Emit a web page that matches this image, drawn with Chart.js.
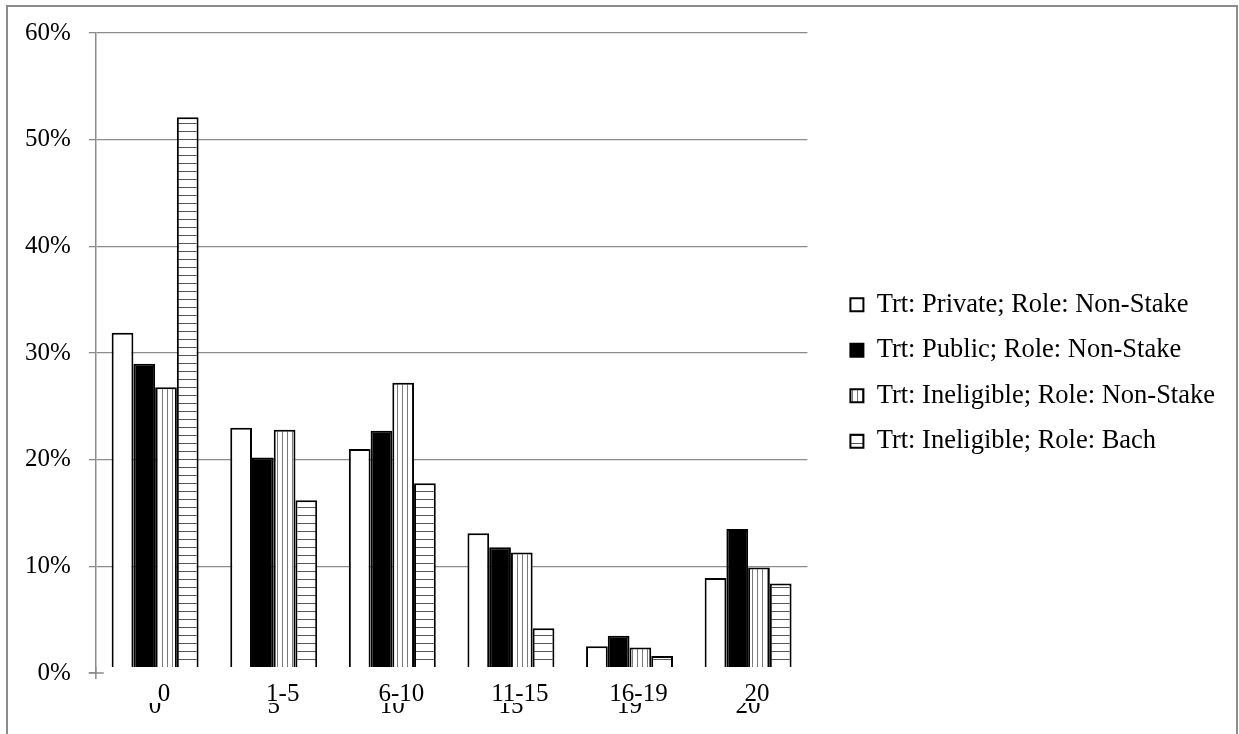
<!DOCTYPE html>
<html>
<head>
<meta charset="utf-8">
<script src="https://cdn.jsdelivr.net/npm/chart.js@4"></script>
<style>
  html, body { margin: 0; padding: 0; background: #fff; overflow: hidden; }
  #wrap { position: relative; width: 1239px; height: 734px; }
  #frame { position: absolute; left: 6px; top: 5px; width: 1232px; height: 760px;
           border: 2px solid #8c8c8c; box-sizing: border-box; }
  #box { position: absolute; left: 0; top: 0; width: 1239px; height: 734px; }
</style>
</head>
<body>
<div id="wrap">
  <div id="frame"></div>
  <div id="box"><canvas id="bar-chart"></canvas></div>
</div>
<script>
const categories = ["0", "1-5", "6-10", "11-15", "16-19", "20"];
// the half-hidden second row of labels under the axis
const hiddenLabels = ["0", "5", "10", "15", "19", "20"];
const privateNonStake = [31.9, 23.0, 21.0, 13.1, 2.5, 8.9];
const publicNonStake = [29.0, 20.2, 22.7, 11.8, 3.5, 13.5];
const ineligibleNonStake = [26.8, 22.8, 27.2, 11.3, 2.4, 9.9];
const ineligibleBach = [52.1, 16.2, 17.8, 4.2, 1.6, 8.4];
const seriesNames = [
  "Trt: Private; Role: Non-Stake",
  "Trt: Public; Role: Non-Stake",
  "Trt: Ineligible; Role: Non-Stake",
  "Trt: Ineligible; Role: Bach",
];

const serif = "'Liberation Serif', 'Times New Roman', serif";

const makePattern = (w, h, draw) => {
  const c = document.createElement("canvas");
  c.width = w;
  c.height = h;
  const g = c.getContext("2d");
  g.fillStyle = "#fff";
  g.fillRect(0, 0, w, h);
  draw(g);
  return c.getContext("2d").createPattern(c, "repeat");
};

const vStripes = makePattern(5, 1, (g) => {
  g.fillStyle = "#7a7a7a";
  g.fillRect(2, 0, 1, 1);
});
const hStripes = makePattern(1, 8, (g) => {
  g.fillStyle = "#555";
  g.fillRect(0, 3, 1, 1);
});

// bars end a little above the baseline in the original, and a second row
// of labels peeks out below the first one
const axisQuirks = {
  id: "axisQuirks",
  afterInit(chart) {
    // let the legend be as wide as its text (default caps it at a quarter of the canvas)
    const legend = chart.legend;
    const update = legend.update.bind(legend);
    legend.update = (maxWidth, maxHeight, margins) => update(Math.max(maxWidth, 600), maxHeight, margins);
  },
  afterLayout(chart) {
    chart.legend.left += 24;
    chart.legend.right += 24;
    chart.legend.top += 4;
    chart.legend.bottom += 4;
  },
  afterDatasetsDraw(chart) {
    const { ctx, chartArea } = chart;
    ctx.save();
    ctx.fillStyle = "#fff";
    ctx.fillRect(chartArea.left + 1, chartArea.bottom - 6, chartArea.right - chartArea.left + 2, 8);
    ctx.strokeStyle = "#8c8c8c";
    ctx.lineWidth = 1.5;
    ctx.beginPath();
    ctx.moveTo(chartArea.left - 7, chartArea.bottom);
    ctx.lineTo(chartArea.left + 8, chartArea.bottom);
    ctx.moveTo(chartArea.left, chartArea.bottom - 6);
    ctx.lineTo(chartArea.left, chartArea.bottom + 6);
    ctx.stroke();
    ctx.restore();
  },
  afterDraw(chart) {
    const { ctx } = chart;
    const xScale = chart.scales.x;
    ctx.save();
    ctx.beginPath();
    ctx.rect(0, 703, chart.width, 40);
    ctx.clip();
    ctx.fillStyle = "#000";
    ctx.font = "25px " + serif;
    ctx.textAlign = "center";
    ctx.textBaseline = "alphabetic";
    hiddenLabels.forEach((label, i) => {
      ctx.fillText(label, xScale.getPixelForValue(i), 713);
    });
    ctx.restore();
  },
};

const barChart = new Chart(document.getElementById("bar-chart"), {
  type: "bar",
  data: {
    labels: categories,
    datasets: [
      { label: seriesNames[0], data: privateNonStake, backgroundColor: "#fff" },
      { label: seriesNames[1], data: publicNonStake, backgroundColor: "#000" },
      { label: seriesNames[2], data: ineligibleNonStake, backgroundColor: vStripes },
      { label: seriesNames[3], data: ineligibleBach, backgroundColor: hStripes },
    ].map((ds) => ({
      ...ds,
      borderColor: "#000",
      borderWidth: 2,
      barPercentage: 1,
      categoryPercentage: 0.733,
    })),
  },
  options: {
    responsive: true,
    maintainAspectRatio: false,
    animation: false,
    devicePixelRatio: 1,
    layout: { padding: { left: 7, top: 23, right: 38, bottom: 19 } },
    scales: {
      x: {
        grid: { display: false, drawTicks: false },
        border: { display: false },
        ticks: {
          color: "#000",
          font: { family: serif, size: 25 },
          padding: 6,
          labelOffset: 9,
          maxRotation: 0,
        },
      },
      y: {
        min: 0,
        max: 60,
        ticks: {
          stepSize: 10,
          color: "#000",
          padding: 18,
          font: { family: serif, size: 25 },
          callback: (v) => v + "%",
        },
        grid: { color: "#8c8c8c", lineWidth: 1.3, tickLength: 7 },
        border: { color: "#8c8c8c", width: 1.5 },
      },
    },
    plugins: {
      tooltip: { enabled: false },
      legend: {
        display: true,
        position: "right",
        align: "center",
        labels: {
          color: "#000",
          boxWidth: 13,
          boxHeight: 13,
          padding: 19,
          font: { family: serif, size: 26.5 },
        },
      },
    },
  },
  plugins: [axisQuirks],
});
</script>
</body>
</html>
